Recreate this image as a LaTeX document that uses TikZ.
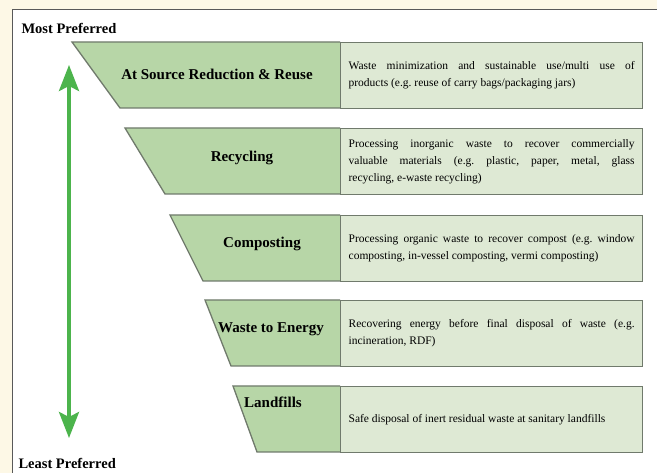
\documentclass[tikz,border=0pt]{standalone}
\usepackage{fontspec}
\setmainfont{Liberation Serif}
\usetikzlibrary{arrows.meta}
\definecolor{cream}{RGB}{253,248,230}
\definecolor{stagegreen}{RGB}{183,214,167}
\definecolor{infogreen}{RGB}{222,233,212}
\definecolor{edgegray}{RGB}{112,122,108}
\definecolor{arrowgreen}{RGB}{76,180,76}
\begin{document}
\begin{tikzpicture}[x=1pt, y=-1pt,
	stage/.style={fill=stagegreen, draw=edgegray, line width=1.3pt},
	info/.style={draw=edgegray, fill=infogreen, line width=1.3pt, anchor=north west,
		minimum width=302pt, minimum height=66pt, text width=286pt, inner sep=0pt,
		align=justify, font=\fontsize{11.5}{17}\selectfont\frenchspacing},
	stagename/.style={font=\fontsize{15}{18}\selectfont\bfseries},
	pref/.style={anchor=west, font=\fontsize{14.5}{17}\selectfont\bfseries}]
\useasboundingbox (0,0) rectangle (657,473);
\fill[cream] (0,0) rectangle (657,473);
\fill[white] (12,10) rectangle (657,473);
\draw[black!65, line width=1pt] (657,10) -- (12,10) -- (12,473);
\node[pref] (most) at (18,28) {Most Preferred};
\node[pref] (least) at (15,463) {Least Preferred};
% arrow
\coordinate (hi) at (69,65);
\coordinate (lo) at (69,438);
\draw[arrowgreen, line width=3.5pt, {Stealth[width=20pt,length=26pt,inset=5pt]}-{Stealth[width=20pt,length=26pt,inset=5pt]}] (hi) -- (lo);
% stages
\filldraw[stage] (340,42) -- (72,42) -- (120,108) -- (340,108);
\node[info] (reuse) at (340,42) {Waste minimization and sustainable use/multi use of\linebreak products (e.g. reuse of carry bags/packaging jars)};
\node[stagename] (src) at (217,74) {At Source Reduction \& Reuse};
\filldraw[stage] (340,128) -- (125,128) -- (165,194) -- (340,194);
\node[info] (recyc) at (340,128) {Processing inorganic waste to recover commercially\linebreak valuable materials (e.g. plastic, paper, metal, glass\linebreak recycling, e-waste recycling)};
\node[stagename] (rec) at (242,158) {Recycling};
\filldraw[stage] (340,215) -- (170,215) -- (203,281) -- (340,281);
\node[info] (compo) at (340,215) {Processing organic waste to recover compost (e.g. window\linebreak composting, in-vessel composting, vermi composting)};
\node[stagename] (com) at (262,244) {Composting};
\filldraw[stage] (340,300) -- (205,300) -- (231,366) -- (340,366);
\node[info] (energy) at (340,300) {Recovering energy before final disposal of waste (e.g.\linebreak incineration, RDF)};
\node[stagename] (wte) at (271,329) {Waste to Energy};
\filldraw[stage] (340,386) -- (233,386) -- (257,452) -- (340,452);
\node[info] (land) at (340,386) {Safe disposal of inert residual waste at sanitary landfills};
\node[stagename] (lf) at (273,402) {Landfills};
\end{tikzpicture}
\end{document}
